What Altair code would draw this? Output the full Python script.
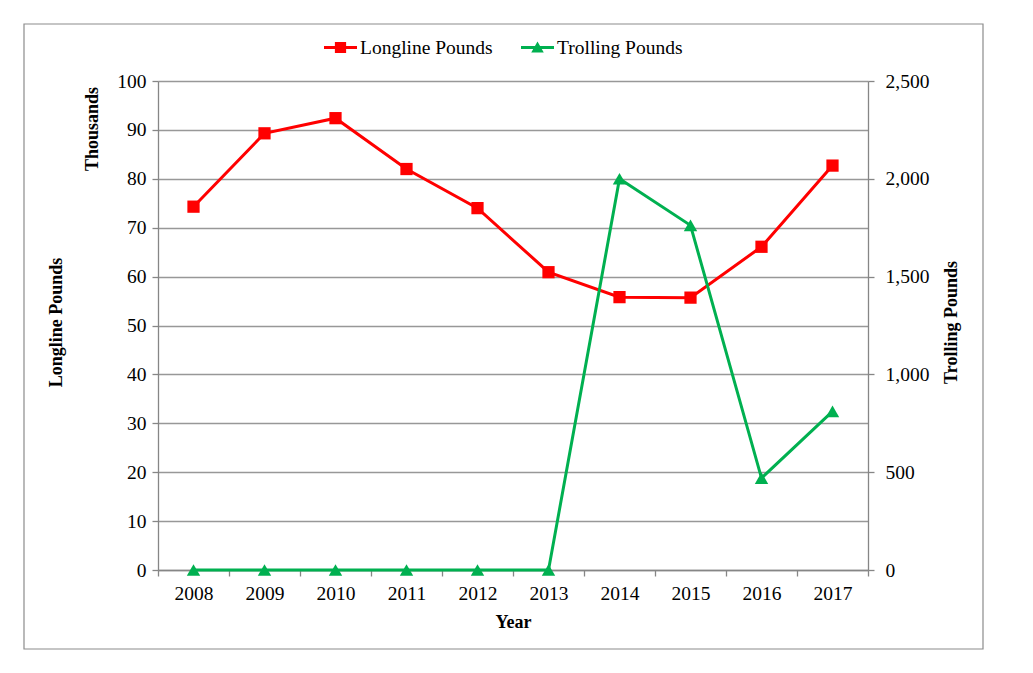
import altair as alt
import pandas as pd

# ---- data ----
years = ["2008", "2009", "2010", "2011", "2012", "2013", "2014", "2015", "2016", "2017"]
longline_thousands = [74.3, 89.3, 92.4, 82.0, 74.0, 60.9, 55.8, 55.7, 66.1, 82.7]
trolling_pounds = [0, 0, 0, 0, 0, 0, 2000, 1762, 470, 811]
series_names = ["Longline Pounds", "Trolling Pounds"]
series_colors = ["#FF0000", "#00B050"]
left_ticks = [0, 10, 20, 30, 40, 50, 60, 70, 80, 90, 100]
right_ticks = [0, 500, 1000, 1500, 2000, 2500]
x_title = "Year"
left_title = "Longline Pounds"
right_title = "Trolling Pounds"
display_unit = ["Thousands"]

FONT = "Liberation Serif"
AXIS_GRAY = "#868686"
GRID_GRAY = "#989898"
W, H = 710, 489

df = pd.DataFrame({"Year": years, "Longline": longline_thousands, "Trolling": trolling_pounds})
base = alt.Chart(df)

x_axis = alt.Axis(
    title=x_title, labelAngle=0, tickBand="extent", tickSize=6, labelPadding=8,
    grid=False, titleY=57, titleBaseline="alphabetic", titleFontWeight="bold",
    titleFontSize=18,
)
x_enc = alt.X("Year:O", scale=alt.Scale(type="band", paddingInner=0, paddingOuter=0), axis=x_axis)

left_y = alt.Y(
    "Longline:Q",
    scale=alt.Scale(domain=[0, 100], nice=False),
    axis=alt.Axis(
        orient="left", values=left_ticks, grid=True, tickSize=6, labelPadding=6,
        title=left_title, titleAngle=270, titleX=-102, titleY=241,
        titleAlign="center", titleBaseline="middle",
    ),
)
right_y = alt.Y(
    "Trolling:Q",
    scale=alt.Scale(domain=[0, 2500], nice=False),
    axis=alt.Axis(
        orient="right", values=right_ticks, format=",.0f", grid=False, tickSize=6,
        labelPadding=11, title=right_title, titleAngle=270, titleX=83, titleY=241,
        titleAlign="center", titleBaseline="middle",
    ),
)

long_line = base.mark_line(color=series_colors[0], strokeWidth=3).encode(x=x_enc, y=left_y)
long_pts = base.mark_point(shape="square", filled=True, size=150, color=series_colors[0], opacity=1).encode(x=x_enc, y=left_y)
troll_line = base.mark_line(color=series_colors[1], strokeWidth=3).encode(x=x_enc, y=right_y)
troll_pts = base.mark_point(shape="triangle-up", filled=True, size=180, color=series_colors[1], opacity=1).encode(x=x_enc, y=right_y)

left_layer = alt.layer(long_line, long_pts)
right_layer = alt.layer(troll_line, troll_pts)

# legend symbols: line segment + marker
sym_square = "M-1,-0.09H1V0.09H-1Z M-0.34,-0.34H0.34V0.34H-0.34Z"
sym_triangle = "M-1,-0.09H1V0.09H-1Z M0,-0.36L0.38,0.3H-0.38Z"

legend_kw = dict(
    orient="none", legendX=166, legendY=-50, direction="horizontal", title=None,
    symbolSize=1089, symbolStrokeWidth=0, symbolOpacity=1, labelFont=FONT,
    labelFontSize=19.5, labelColor="black", columnPadding=28, labelOffset=3, padding=0,
)
ghost = alt.Chart(pd.DataFrame({"Series": series_names})).mark_point(filled=True, opacity=0).encode(
    color=alt.Color("Series:N", scale=alt.Scale(domain=series_names, range=series_colors), legend=alt.Legend(**legend_kw)),
    shape=alt.Shape("Series:N", scale=alt.Scale(domain=series_names, range=[sym_square, sym_triangle]), legend=alt.Legend(**legend_kw)),
)

unit_text = alt.Chart(pd.DataFrame({"t": display_unit})).mark_text(
    angle=270, font=FONT, fontSize=18, fontWeight="bold", align="center", baseline="middle", color="black"
).encode(text="t:N", x=alt.value(-65), y=alt.value(48))

border = alt.Chart(pd.DataFrame({"a": [0]})).mark_rect(
    fill="white", fillOpacity=0, stroke="#8C8C8C", strokeWidth=1.2
).encode(x=alt.value(-134), x2=alt.value(825), y=alt.value(-57), y2=alt.value(568))

chart = (
    alt.layer(border, left_layer, right_layer, ghost, unit_text)
    .resolve_scale(y="independent")
    .properties(
        width=W, height=H,
        autosize=alt.AutoSizeParams(type="none"),
        padding={"left": 150, "top": 73, "right": 157, "bottom": 95},
        background="white",
    )
    .configure_view(stroke=None)
    .configure_axis(
        labelFont=FONT, labelFontSize=19.5, labelColor="black",
        titleFont=FONT, titleFontSize=18, titleFontWeight="bold", titleColor="black",
        domainColor=AXIS_GRAY, domainWidth=1.3, tickColor=AXIS_GRAY, tickWidth=1.3,
        gridColor=GRID_GRAY, gridWidth=1.3,
    )
)

chart.save("out.html", embed_options={"renderer": "svg", "actions": False})
